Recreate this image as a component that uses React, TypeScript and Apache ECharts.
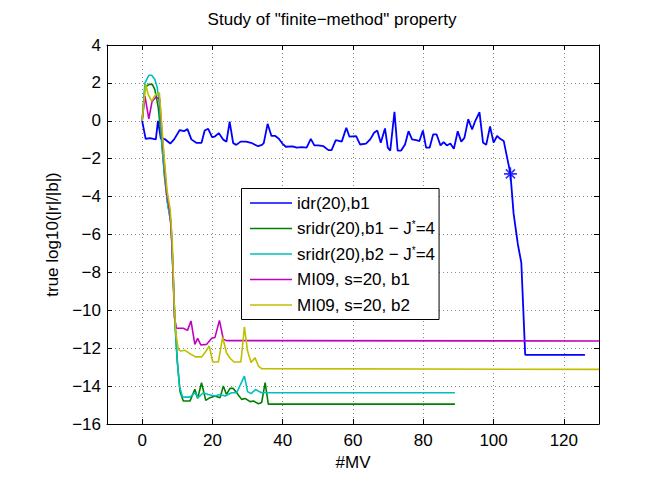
import React, { useEffect, useRef } from "react";
import * as echarts from "echarts";

// ---- data ----
const xTicks = [0, 20, 40, 60, 80, 100, 120];

const idrX = [0, 1, 2.2, 3.9, 4.5, 5.3, 6.5, 8, 9.1, 10.7, 11.9, 12.9, 14, 15.4, 16.9, 17.8, 18.8, 19.9, 20.6, 21.8, 23, 24, 24.9, 25.9, 26.8, 28, 29.6, 31, 33, 34.1, 34.6, 35.7, 36.8, 37.9, 38.9, 39.9, 40.9, 42.8, 44, 45.4, 46.8, 48, 49, 50.1, 51.6, 53, 53.9, 55.1, 56.8, 58.1, 59, 60.9, 62, 63.7, 64.9, 66, 66.9, 67.9, 69.1, 69.9, 70.6, 71.8, 72.7, 73.7, 74.8, 75.8, 76.8, 78, 78.9, 79.9, 80.8, 81.8, 82.8, 83.8, 84.9, 85.8, 86.7, 87.7, 88.7, 89.8, 90.8, 91.7, 92.8, 93.9, 94.8, 96, 97, 97.9, 99, 100, 101, 101.9, 102.9, 104.8, 105.7, 106.9, 107.9, 109, 126];
const idrY = [0, -0.95, -0.91, -0.98, 0, -0.93, -0.97, -1.2, -0.98, -0.49, -0.55, -0.44, -0.98, -1.16, -1.16, -0.51, -0.42, -0.86, -0.84, -0.65, -0.98, -1.1, -0.05, -1.18, -1.27, -1.1, -1.1, -1.16, -1.34, -1.27, -1.18, -0.16, -0.8, -0.8, -0.95, -1.2, -1.37, -1.35, -1.42, -1.39, -1.42, -0.95, -1.3, -1.3, -1.34, -1.55, -1.55, -1.02, -1.1, -0.37, -0.84, -0.81, -1.25, -1.21, -0.98, -0.63, -0.51, -1.16, -0.4, -1.42, -1.57, 0.47, -1.57, -1.57, -1.25, -0.55, -0.98, -1.02, -1.07, -0.51, -1.42, -1.42, -0.72, -0.72, -1.3, -1.12, -1.3, -1.2, -1.48, -0.55, -1.1, -0.9, 0.08, -0.46, 0.0, 0.45, -1.15, -1.27, -0.3, -1.15, -0.8, -0.95, -1.07, -2.8, -4.9, -6.5, -7.5, -12.35, -12.35];

const starX = [104.8];
const starY = [-2.8];

const sridrB1X = [0, 0.8, 1.9, 2.9, 3.6, 4.6, 5.5, 6.4, 7.2, 8.2, 8.8, 9.3, 10, 10.8, 11.7, 13.6, 15, 15.8, 16.9, 18.1, 19.3, 20.7, 22.2, 23.1, 24, 25, 25.9, 26.9, 28.3, 29.3, 30.7, 31.7, 33.1, 34, 35, 35.9, 89];
const sridrB1Y = [0, 1.75, 1.92, 1.92, 1.66, 0.69, -1.0, -3, -4.3, -5.4, -8, -10.5, -12.7, -14.3, -14.79, -14.79, -14.17, -14.65, -13.82, -14.75, -14.61, -14.52, -14.61, -13.99, -14.44, -14.12, -14.12, -14.35, -14.7, -14.65, -14.82, -14.79, -14.93, -14.87, -13.82, -14.95, -14.95];

const sridrB2X = [0, 0.8, 1.9, 2.7, 3.6, 4.3, 5, 5.7, 6.5, 7.2, 8.2, 8.8, 9.3, 9.9, 10.6, 11.5, 13.6, 15, 15.9, 17.4, 18.8, 20.7, 22.2, 23.6, 25.5, 26.9, 29.1, 30, 31, 32.3, 33.3, 34, 89];
const sridrB2Y = [0, 2.0, 2.4, 2.4, 2.19, 1.75, 0.69, -1.4, -3.0, -4.3, -5.4, -8, -10.5, -12.4, -14, -14.58, -14.58, -14.35, -14.61, -14.35, -14.44, -14.52, -14.44, -14.52, -14.35, -14.35, -13.47, -14.29, -14.4, -14.17, -14.29, -14.35, -14.35];

const mi09B1X = [0, 0.8, 1.9, 2.8, 3.9, 5, 5.6, 6.3, 7, 7.9, 8.5, 9.2, 9.8, 11.7, 12.9, 13.9, 15, 15.8, 16.7, 18.3, 19.8, 20.7, 22, 23.1, 24, 130];
const mi09B1Y = [0, 1.3, 0.1, 1.0, 1.25, 1.15, -0.5, -2.2, -3.8, -4.8, -6.5, -10.4, -10.95, -10.95, -11.06, -10.56, -11.8, -11.48, -11.83, -11.8, -11.48, -11.44, -10.53, -11.53, -11.6, -11.62];

const mi09B2X = [0, 1, 1.7, 2.7, 3.9, 4.9, 5.5, 6.3, 7.1, 8, 8.6, 9.1, 9.6, 10.3, 11, 12.2, 13.6, 15.2, 16.9, 18.2, 19.1, 20.1, 21.7, 22.9, 24, 25, 26.2, 28.1, 29.1, 30, 31, 32.1, 33.1, 34, 130];
const mi09B2Y = [0, 1.92, 1.4, 1.04, 1.4, 1.48, 0, -2, -3.7, -4.7, -6.5, -9.6, -11.2, -12.06, -12.15, -12.11, -12.29, -12.46, -12.46, -12.15, -11.88, -12.73, -12.73, -11.41, -12.24, -12.53, -12.73, -12.73, -10.88, -12.15, -12.76, -12.5, -12.94, -13.08, -13.12];

const seriesNames = [
  "idr(20),b1",
  "sridr(20),b1 − J*=4",
  "sridr(20),b2 − J*=4",
  "MI09, s=20, b1",
  "MI09, s=20, b2",
];
const seriesColors = ["#0000FF", "#008000", "#00BFBF", "#BF00BF", "#BFBF00"];

const zip = (xs: number[], ys: number[]) => xs.map((x, i) => [x, ys[i]]);

const FONT = "'Liberation Sans', Arial, Helvetica, sans-serif";
const fmtMinus = (v: number) => (v < 0 ? "\u2212" + Math.abs(v) : String(v));

export default function App() {
  const ref = useRef<HTMLDivElement>(null);
  useEffect(() => {
    if (!ref.current) return;
    const chart = echarts.init(ref.current, null, { renderer: "svg" });
    const lineData = [
      zip(idrX, idrY),
      zip(sridrB1X, sridrB1Y),
      zip(sridrB2X, sridrB2Y),
      zip(mi09B1X, mi09B1Y),
      zip(mi09B2X, mi09B2Y),
    ];
    const axisLine = { show: true, onZero: false, lineStyle: { color: "#000", width: 1 } };
    chart.setOption({
      animation: false,
      backgroundColor: "#fff",
      textStyle: { fontFamily: FONT },
      title: {
        text: 'Study of "finite\u2212method" property',
        left: "center",
        top: 6,
        padding: [5, 0, 5, 42],
        textStyle: { fontFamily: FONT, fontSize: 17, fontWeight: "normal", color: "#000" },
      },
      grid: { left: 107, right: 65, top: 45, bottom: 67, outerBoundsMode: "none" },
      legend: {
        show: true,
        orient: "vertical",
        left: 241.5,
        top: 188.5,
        padding: [5.5, 4, 5.5, 8.5],
        itemGap: 7.5,
        itemWidth: 42,
        itemHeight: 1.6,
        icon: "rect",
        backgroundColor: "#fff",
        borderColor: "#000",
        borderWidth: 1,
        borderRadius: 0,
        data: seriesNames,
        formatter: (name: string) => name.replace("J*", "J{sup|*}"),
        textStyle: {
          fontFamily: FONT,
          fontSize: 17,
          lineHeight: 18,
          color: "#000",
          rich: {
            sup: { fontFamily: FONT, fontSize: 10, lineHeight: 10, verticalAlign: "top", color: "#000" },
          },
        },
      },
      xAxis: [
        {
          type: "value",
          min: -10,
          max: 130,
          position: "bottom",
          name: "#MV",
          nameLocation: "middle",
          nameGap: 27,
          nameTextStyle: { fontFamily: FONT, fontSize: 17, color: "#000" },
          axisLine,
          axisTick: { show: true, inside: true, length: 5, customValues: xTicks, lineStyle: { color: "#000" } },
          axisLabel: { show: true, margin: 8, customValues: xTicks, fontFamily: FONT, fontSize: 17, color: "#000" },
          splitLine: { show: true, lineStyle: { color: "#8a8a8a", type: [1, 3], width: 1 } },
        },
        {
          type: "value",
          min: -10,
          max: 130,
          position: "top",
          axisLine,
          axisTick: { show: true, inside: true, length: 5, customValues: xTicks, lineStyle: { color: "#000" } },
          axisLabel: { show: false },
          splitLine: { show: false },
        },
      ],
      yAxis: [
        {
          type: "value",
          min: -16,
          max: 4,
          interval: 2,
          position: "left",
          name: "true log10(|r|/|b|)",
          nameLocation: "middle",
          nameGap: 42,
          nameTextStyle: { fontFamily: FONT, fontSize: 17, color: "#000" },
          axisLine,
          axisTick: { show: true, inside: true, length: 5, lineStyle: { color: "#000" } },
          axisLabel: { show: true, margin: 6, formatter: fmtMinus, fontFamily: FONT, fontSize: 17, color: "#000" },
          splitLine: { show: true, lineStyle: { color: "#8a8a8a", type: [1, 3], width: 1 } },
        },
        {
          type: "value",
          min: -16,
          max: 4,
          interval: 2,
          position: "right",
          axisLine,
          axisTick: { show: true, inside: true, length: 5, lineStyle: { color: "#000" } },
          axisLabel: { show: false },
          splitLine: { show: false },
        },
      ],
      series: [
        ...seriesNames.map((name, i) => ({
          name,
          type: "line",
          xAxisIndex: 0,
          yAxisIndex: 0,
          data: lineData[i],
          symbol: "none",
          showSymbol: false,
          color: seriesColors[i],
          lineStyle: { color: seriesColors[i], width: i === 0 ? 1.8 : 1.6 },
          z: 2 + i,
        })),
        {
          name: "marker",
          type: "scatter",
          xAxisIndex: 0,
          yAxisIndex: 0,
          data: zip(starX, starY),
          symbol: "path://M10,0L10,20M0,10L20,10M3,3L17,17M3,17L17,3",
          symbolSize: 13,
          itemStyle: { color: "rgba(0,0,0,0)", borderColor: "#0000FF", borderWidth: 1.6 },
          z: 10,
        },
      ],
    });
    return () => chart.dispose();
  }, []);
  return <div ref={ref} style={{ width: 664, height: 491, position: "absolute", left: 0, top: 0 }} />;
}
